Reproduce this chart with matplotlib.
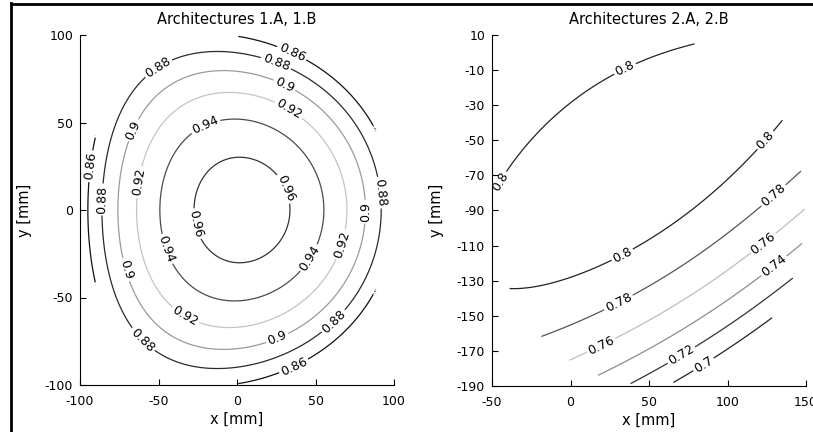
import numpy as np
import matplotlib.pyplot as plt
from matplotlib.lines import Line2D

plt.rcParams['axes.unicode_minus'] = False
plt.rcParams['font.family'] = ['DejaVu Sans']

# Left panel (architectures 1.A, 1.B): values on a coarse 25 mm grid
left_x = [-100, -75, -50, -25, 0, 25, 50, 75, 100]
left_y = [-100, -75, -50, -25, 0, 25, 50, 75, 100]
left_z = [
    [0.7906, 0.8285, 0.8518, 0.8608, 0.8553, 0.8455, 0.8212, 0.7825, 0.7293],
    [0.8159, 0.8601, 0.8897, 0.9050, 0.9059, 0.8979, 0.8756, 0.8388, 0.7874],
    [0.8340, 0.8826, 0.9168, 0.9366, 0.9420, 0.9354, 0.9144, 0.8790, 0.8290],
    [0.8448, 0.8962, 0.9331, 0.9556, 0.9637, 0.9579, 0.9377, 0.9031, 0.8539],
    [0.8484, 0.9007, 0.9385, 0.9619, 0.9709, 0.9654, 0.9455, 0.9111, 0.8622],
    [0.8448, 0.8962, 0.9331, 0.9556, 0.9637, 0.9579, 0.9377, 0.9031, 0.8539],
    [0.8340, 0.8826, 0.9168, 0.9366, 0.9420, 0.9354, 0.9144, 0.8790, 0.8290],
    [0.8159, 0.8601, 0.8897, 0.9050, 0.9059, 0.8979, 0.8756, 0.8388, 0.7874],
    [0.7906, 0.8285, 0.8518, 0.8608, 0.8553, 0.8455, 0.8212, 0.7825, 0.7293],
]
left_levels = [0.86, 0.88, 0.9, 0.92, 0.94, 0.96]
left_colors = ['#111111', '#2a2a2a', '#9a9a9a', '#c4c4c4', '#4a4a4a', '#333333']
left_center = (0, 0)
left_radius = 99.5
left_label_pos = [(-93, 25), (34, 88), (36, -89),
                  (-50, 81), (24, 82), (-85, 6), (92, 10), (62, -64), (-61, -75),
                  (-67, 46), (29, 69), (85, -1), (-74, -35), (26, -74),
                  (-63, 16), (32, 56), (67, -20), (-34, -62),
                  (-21, 50), (-50, -24), (47, -28),
                  (30, 12), (-31, -9)]

# Right panel (architectures 2.A, 2.B)
right_x = [-50, -25, 0, 25, 50, 75, 100, 125, 150]
right_y = [-190, -165, -140, -115, -90, -65, -40, -15, 10]
right_z = [
    [0.7639, 0.7538, 0.7413, 0.7267, 0.7107, 0.6881, 0.6638, 0.6338, 0.6010],
    [0.7844, 0.7787, 0.7705, 0.7590, 0.7461, 0.7271, 0.7063, 0.6802, 0.6513],
    [0.7977, 0.7962, 0.7925, 0.7841, 0.7742, 0.7587, 0.7415, 0.7194, 0.6943],
    [0.8036, 0.8065, 0.8071, 0.8018, 0.7951, 0.7831, 0.7694, 0.7512, 0.7301],
    [0.8023, 0.8096, 0.8145, 0.8123, 0.8086, 0.8002, 0.7901, 0.7758, 0.7586],
    [0.7937, 0.8053, 0.8147, 0.8155, 0.8149, 0.8101, 0.8035, 0.7931, 0.7798],
    [0.7779, 0.7938, 0.8075, 0.8114, 0.8139, 0.8126, 0.8096, 0.8032, 0.7937],
    [0.7547, 0.7750, 0.7931, 0.8001, 0.8057, 0.8079, 0.8084, 0.8060, 0.8004],
    [0.7243, 0.7489, 0.7714, 0.7814, 0.7901, 0.7959, 0.8000, 0.8014, 0.7998],
]
right_levels = [0.7, 0.72, 0.74, 0.76, 0.78, 0.8]
right_colors = ['#222222', '#333333', '#8c8c8c', '#bdbdbd', '#555555', '#222222']
right_center = (50, -90)
right_radius = 99.5
right_label_pos = [(34, -8), (-46, -73), (34, -117), (128, -53),
                   (32, -145), (126, -78), (20, -168), (124, -110),
                   (130, -122), (71, -173), (87, -181)]


def smooth_field(xs, ys, zs, center, radius, xlim, ylim, deg=4):
    # least-squares 2D polynomial through the grid readings, for smooth contours
    gx, gy = np.meshgrid(xs, ys)
    cx, cy = np.mean(xs), np.mean(ys)
    sx, sy = np.ptp(xs) / 2, np.ptp(ys) / 2
    powers = [(i, j) for i in range(deg + 1) for j in range(deg + 1 - i)]

    def design(px, py):
        u, v = (px - cx) / sx, (py - cy) / sy
        return np.stack([u ** i * v ** j for i, j in powers], axis=-1)

    coef, *_ = np.linalg.lstsq(design(gx.ravel(), gy.ravel()),
                               np.asarray(zs).ravel(), rcond=None)
    fx, fy = np.meshgrid(np.linspace(xlim[0], xlim[1], 501),
                         np.linspace(ylim[0], ylim[1], 501))
    fz = design(fx, fy) @ coef
    outside = np.hypot(fx - center[0], fy - center[1]) > radius
    return fx, fy, np.ma.masked_where(outside, fz)


fig = plt.figure(figsize=(8.13, 4.32), dpi=100)
ax1 = fig.add_axes([80 / 813, 1 - 385 / 432, 314 / 813, 350 / 432])
ax2 = fig.add_axes([492 / 813, 1 - 386 / 432, 314 / 813, 351 / 432])

panels = [
    (ax1, left_x, left_y, left_z, left_levels, left_colors, left_center, left_radius,
     left_label_pos, (-100, 100), (-100, 100), 'Architectures 1.A, 1.B',
     np.arange(-100, 101, 50), np.arange(-100, 101, 50)),
    (ax2, right_x, right_y, right_z, right_levels, right_colors, right_center, right_radius,
     right_label_pos, (-50, 150), (-190, 10), 'Architectures 2.A, 2.B',
     np.arange(-50, 151, 50), np.arange(-190, 11, 20)),
]

for (ax, xs, ys, zs, levels, colors, center, radius, lpos, xlim, ylim, title,
     xt, yt) in panels:
    fx, fy, fz = smooth_field(xs, ys, zs, center, radius, xlim, ylim)
    cs = ax.contour(fx, fy, fz, levels=levels, colors=colors, linewidths=0.9)
    ax.clabel(cs, fmt=lambda v: f'{v:g}', fontsize=9, colors='k',
              inline=True, inline_spacing=2, manual=lpos)
    ax.set_xlim(xlim)
    ax.set_ylim(ylim)
    ax.set_xticks(xt)
    ax.set_yticks(yt)
    ax.spines['top'].set_visible(False)
    ax.spines['right'].set_visible(False)
    ax.spines['left'].set_linewidth(0.8)
    ax.spines['bottom'].set_linewidth(0.8)
    ax.tick_params(direction='in', length=4, width=0.8, labelsize=9)
    ax.tick_params(axis='x', pad=7)
    ax.tick_params(axis='y', pad=5)
    ax.set_title(title, fontsize=10.5, pad=8)
    ax.set_xlabel('x [mm]', fontsize=10.5, labelpad=3)
    ax.set_ylabel('y [mm]', fontsize=10.5, labelpad=9)

# frame left over from the original page crop
fig.add_artist(Line2D([11 / 813, 11 / 813], [0, 1 - 3 / 432], color='k', lw=2,
                      transform=fig.transFigure))
fig.add_artist(Line2D([11 / 813, 1], [1 - 4 / 432, 1 - 4 / 432], color='k', lw=2,
                      transform=fig.transFigure))

fig.savefig('out.png', dpi=100)
